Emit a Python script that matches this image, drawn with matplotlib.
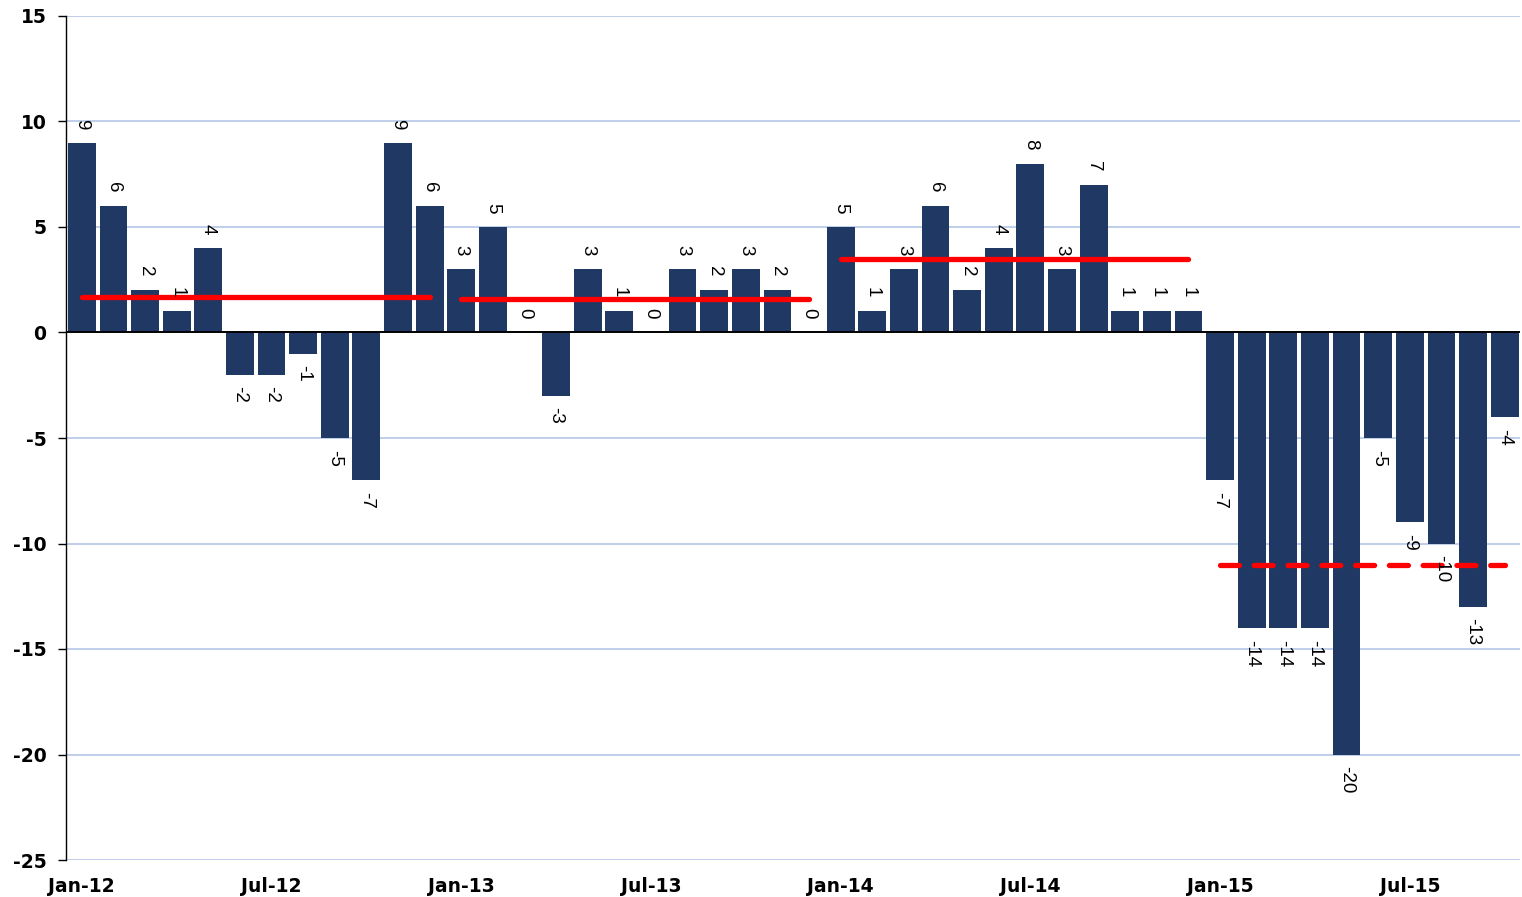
import numpy as np
import matplotlib as mpl
import matplotlib.pyplot as plt

mpl.rcParams['axes.unicode_minus'] = False

# data
months = ['Jan-12', 'Feb-12', 'Mar-12', 'Apr-12', 'May-12', 'Jun-12',
          'Jul-12', 'Aug-12', 'Sep-12', 'Oct-12', 'Nov-12', 'Dec-12',
          'Jan-13', 'Feb-13', 'Mar-13', 'Apr-13', 'May-13', 'Jun-13',
          'Jul-13', 'Aug-13', 'Sep-13', 'Oct-13', 'Nov-13', 'Dec-13',
          'Jan-14', 'Feb-14', 'Mar-14', 'Apr-14', 'May-14', 'Jun-14',
          'Jul-14', 'Aug-14', 'Sep-14', 'Oct-14', 'Nov-14', 'Dec-14',
          'Jan-15', 'Feb-15', 'Mar-15', 'Apr-15', 'May-15', 'Jun-15',
          'Jul-15', 'Aug-15', 'Sep-15', 'Oct-15']
values = [9, 6, 2, 1, 4, -2, -2, -1, -5, -7, 9, 6,
          3, 5, 0, -3, 3, 1, 0, 3, 2, 3, 2, 0,
          5, 1, 3, 6, 2, 4, 8, 3, 7, 1, 1, 1,
          -7, -14, -14, -14, -20, -5, -9, -10, -13, -4]
# yearly average segments (first index, last index, dashed?)
year_spans = [(0, 11, False), (12, 23, False), (24, 35, False), (36, 45, True)]

bar_color = '#203864'
grid_color = '#B4C7E7'

fig = plt.figure(figsize=(15.22, 8.97), dpi=100)
ax = fig.add_axes([66 / 1522, 1 - 860 / 897, 1 - 66 / 1522 - 0.001, (860 - 16) / 897])

x = np.arange(len(values))
ax.bar(x, values, width=0.88, color=bar_color, zorder=2)

# value labels, rotated
for xi, v in zip(x, values):
    if v >= 0:
        ax.text(xi, v + 0.65, str(v), rotation=270, ha='center', va='bottom',
                fontsize=13.5, family='Liberation Sans', zorder=4)
    else:
        ax.text(xi, v - 0.55, str(v), rotation=270, ha='center', va='top',
                fontsize=13.5, family='Liberation Sans', zorder=4)

# yearly averages
for i0, i1, dashed in year_spans:
    avg = np.mean(values[i0:i1 + 1])
    ax.plot([i0, i1], [avg, avg], color='#FF0000', lw=3.8,
            ls=(0, (3.6, 2.8)) if dashed else '-', solid_capstyle='round',
            dash_capstyle='round', zorder=3)

ax.axhline(0, color='black', lw=1.4, zorder=3)

ax.set_xlim(-0.5, 45.5)
ax.set_ylim(-25, 15)
ax.set_yticks(np.arange(-25, 16, 5))
ax.yaxis.grid(True, color=grid_color, lw=1.2, zorder=0)
ax.set_axisbelow(True)

ax.set_xticks(x[::6])
ax.set_xticklabels(months[::6])
ax.tick_params(axis='x', length=0, pad=12)
ax.tick_params(axis='y', length=6, width=1, direction='out', pad=8)
for lab in ax.get_xticklabels() + ax.get_yticklabels():
    lab.set_fontweight('bold')
    lab.set_fontsize(13.5)

for s in ['top', 'right', 'bottom']:
    ax.spines[s].set_visible(False)
ax.spines['left'].set_linewidth(1)

fig.savefig('out.png', dpi=100)
